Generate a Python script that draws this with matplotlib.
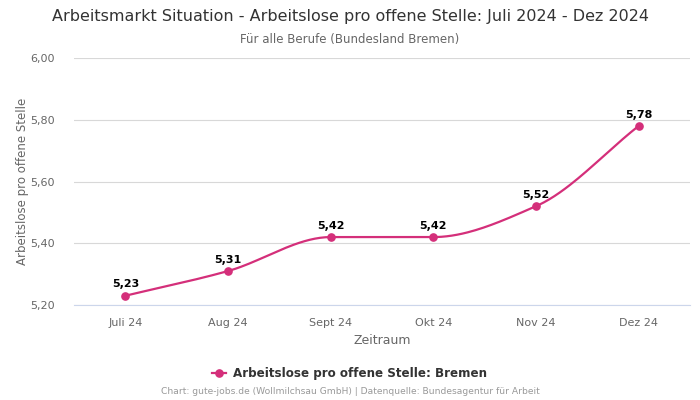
import matplotlib
matplotlib.use('Agg')
import matplotlib.pyplot as plt
import numpy as np

plt.rcParams['font.family'] = ['DejaVu Sans']

# Daten
monate = ['Juli 24', 'Aug 24', 'Sept 24', 'Okt 24', 'Nov 24', 'Dez 24']
werte = [5.23, 5.31, 5.42, 5.42, 5.52, 5.78]
y_ticks = [5.20, 5.40, 5.60, 5.80, 6.00]

farbe = '#d42f7a'


def monotone_kurve(x, y, n=40):
    # monotone kubische Interpolation (Fritsch-Carlson) fuer die geglaettete Linie
    x = np.asarray(x, float)
    y = np.asarray(y, float)
    h = np.diff(x)
    d = np.diff(y) / h
    m = np.zeros_like(y)
    m[0], m[-1] = d[0], d[-1]
    for i in range(1, len(y) - 1):
        if d[i - 1] * d[i] <= 0:
            m[i] = 0
        else:
            w1 = 2 * h[i] + h[i - 1]
            w2 = h[i] + 2 * h[i - 1]
            m[i] = (w1 + w2) / (w1 / d[i - 1] + w2 / d[i])
    xs, ys = [], []
    for i in range(len(x) - 1):
        t = np.linspace(0, 1, n)
        h00 = 2 * t**3 - 3 * t**2 + 1
        h10 = t**3 - 2 * t**2 + t
        h01 = -2 * t**3 + 3 * t**2
        h11 = t**3 - t**2
        xs.append(x[i] + t * h[i])
        ys.append(h00 * y[i] + h10 * h[i] * m[i] + h01 * y[i + 1] + h11 * h[i] * m[i + 1])
    return np.concatenate(xs), np.concatenate(ys)


fig = plt.figure(figsize=(7, 4), dpi=100)
ax = fig.add_axes([74 / 700, 1 - 305 / 400, 616 / 700, 247 / 400])

pos = np.arange(len(monate))
kx, ky = monotone_kurve(pos, werte)
ax.plot(kx, ky, color=farbe, linewidth=1.6, zorder=3)
ax.plot(pos, werte, 'o', color=farbe, markersize=5.2, zorder=4)

for p, w in zip(pos, werte):
    ax.annotate(f'{w:.2f}'.replace('.', ','), (p, w), xytext=(0, 4.5), textcoords='offset points',
                ha='center', va='bottom', fontsize=8, fontweight='bold', color='black')

ax.set_xlim(-0.5, len(monate) - 0.5)
ax.set_ylim(5.20, 6.00)
ax.set_xticks(pos)
ax.set_xticklabels(monate)
ax.set_yticks(y_ticks)
ax.set_yticklabels([f'{v:.2f}'.replace('.', ',') for v in y_ticks])
ax.tick_params(axis='both', length=0, labelsize=8, colors='#666666')
ax.tick_params(axis='x', pad=9)
ax.tick_params(axis='y', pad=14)
ax.grid(axis='y', color='#d8d8d8', linewidth=0.8)
ax.set_axisbelow(True)
for s in ['top', 'right', 'left']:
    ax.spines[s].set_visible(False)
ax.spines['bottom'].set_color('#ccd6eb')
ax.spines['bottom'].set_zorder(2)

ax.set_xlabel('Zeitraum', fontsize=9, color='#666666', labelpad=5)
ax.set_ylabel('Arbeitslose pro offene Stelle', fontsize=8.5, color='#666666', labelpad=1)

fig.text(0.5, 1 - 17 / 400, 'Arbeitsmarkt Situation - Arbeitslose pro offene Stelle: Juli 2024 - Dez 2024',
         ha='center', va='center', fontsize=11.5, color='#333333')
fig.text(0.5, 1 - 39 / 400, 'Für alle Berufe (Bundesland Bremen)',
         ha='center', va='center', fontsize=8.5, color='#666666')

# Legende
lx = 219 / 700
ly = 1 - 373 / 400
fig.add_artist(plt.Line2D([lx - 7 / 700, lx + 7 / 700], [ly, ly], color=farbe,
                          linewidth=1.6, transform=fig.transFigure))
fig.add_artist(plt.Line2D([lx], [ly], color=farbe, marker='o', markersize=5.2,
                          linestyle='none', transform=fig.transFigure))
fig.text(233 / 700, ly, 'Arbeitslose pro offene Stelle: Bremen', ha='left', va='center',
         fontsize=8.6, fontweight='bold', color='#333333')
fig.text(0.5, 1 - 392 / 400, 'Chart: gute-jobs.de (Wollmilchsau GmbH) | Datenquelle: Bundesagentur für Arbeit',
         ha='center', va='center', fontsize=6.6, color='#999999')

fig.savefig('out.png', dpi=100)
